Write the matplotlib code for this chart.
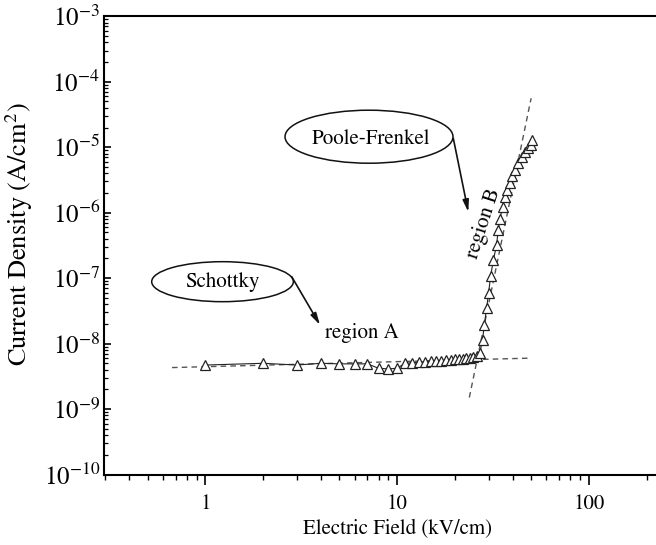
import numpy as np
import matplotlib
matplotlib.use("Agg")
import matplotlib.pyplot as plt
from matplotlib.patches import Ellipse
from matplotlib.ticker import FixedLocator, FixedFormatter, LogLocator, NullFormatter

plt.rcParams['font.family'] = 'STIXGeneral'
plt.rcParams['mathtext.fontset'] = 'stix'

# measured J-E data, low field (region A)
field_a = [1, 2, 3, 4, 5, 6, 7, 8, 9, 10,
           11, 12, 13, 14, 15, 16, 17, 18, 19, 20, 21, 22, 23, 24, 25, 26]
current_a = [4.7e-9, 5.0e-9, 4.7e-9, 5.0e-9, 4.9e-9, 4.9e-9, 4.9e-9, 4.2e-9, 4.1e-9, 4.2e-9,
             5.0e-9, 5.1e-9, 5.2e-9, 5.3e-9, 5.4e-9, 5.5e-9, 5.5e-9, 5.6e-9, 5.7e-9, 5.8e-9,
             5.8e-9, 5.9e-9, 6.0e-9, 6.1e-9, 6.2e-9, 6.4e-9]

# high field (region B)
field_b = [27.0, 27.9, 28.5, 29.3, 30.0, 30.7, 31.8, 33.0, 33.7, 34.4, 35.5, 36.5,
           37.5, 38.8, 39.6, 41.2, 42.8, 44.6, 46.4, 48.3, 49.7, 50.3]
current_b = [7.2e-9, 1.14e-8, 1.94e-8, 3.5e-8, 5.9e-8, 1.06e-7, 1.9e-7, 3.2e-7, 5.5e-7,
             8.0e-7, 1.24e-6, 1.76e-6, 2.23e-6, 2.8e-6, 3.6e-6, 4.5e-6, 5.7e-6, 7.2e-6,
             8.6e-6, 9.7e-6, 1.08e-5, 1.29e-5]

# fitted lines
fit_schottky_x = [0.67, 50]
fit_schottky_y = [4.3e-9, 6.0e-9]
fit_pf_x = [23.8, 50]
fit_pf_y = [1.5e-9, 5.6e-5]

x_ticks = [1, 10, 100]
x_tick_labels = ['1', '10', '100']

fig = plt.figure(figsize=(6.56, 5.45), dpi=100)
ax = fig.add_axes([104.3 / 656, (545 - 474.5) / 545, 551.7 / 656, 458.2 / 545])

field = field_a + field_b
current = current_a + current_b

ax.plot(fit_schottky_x, fit_schottky_y, color='#555555', lw=1.0, ls=(0, (4, 3)))
ax.plot(fit_pf_x, fit_pf_y, color='#555555', lw=1.0, ls=(0, (4, 3)))
ax.plot(field, current, '-^', color='#222222', lw=0.8, ms=7.5,
        mfc='white', mec='#222222', mew=0.9)

ax.set_xscale('log')
ax.set_yscale('log')
ax.set_xlim(0.297, 224)
ax.set_ylim(1e-10, 1e-3)

ax.xaxis.set_major_locator(FixedLocator(x_ticks))
ax.xaxis.set_major_formatter(FixedFormatter(x_tick_labels))
ax.xaxis.set_minor_locator(LogLocator(base=10, subs=np.arange(2, 10)))
ax.xaxis.set_minor_formatter(NullFormatter())
ax.yaxis.set_major_locator(LogLocator(base=10, numticks=12))
ax.yaxis.set_minor_locator(LogLocator(base=10, subs=np.arange(2, 10), numticks=12))
ax.yaxis.set_minor_formatter(NullFormatter())
ax.xaxis.get_offset_text().set_visible(False)
ax.yaxis.get_offset_text().set_visible(False)

ax.tick_params(axis='x', which='major', direction='out', length=7, width=1.2,
               labelsize=15, pad=7, top=False)
ax.tick_params(axis='x', which='minor', direction='out', length=3.5, width=1.0, top=False)
ax.tick_params(axis='y', which='major', direction='in', length=5, width=1.2,
               labelsize=18, pad=3, right=False)
ax.tick_params(axis='y', which='minor', direction='in', length=3, width=0.9, right=False)

for side in ['left', 'bottom', 'top']:
    ax.spines[side].set_linewidth(1.5)
ax.spines['right'].set_visible(False)

ax.set_xlabel('Electric Field (kV/cm)', fontsize=15)
ax.xaxis.set_label_coords(0.532, -0.098)
ax.set_ylabel('Current Density (A/cm$^2$)', fontsize=19)
ax.yaxis.set_label_coords(-0.125, 0.525)

# mechanism callouts
ax.add_patch(Ellipse((0.2143, 0.4208), 0.2568, 0.0873, transform=ax.transAxes,
                     fill=False, ec='#111111', lw=1.1))
ax.text(0.2143, 0.4208, 'Schottky', transform=ax.transAxes, fontsize=15,
        ha='center', va='center')
ax.annotate('', xy=(0.3910, 0.3263), xytext=(0.3397, 0.4317),
            xycoords='axes fraction', textcoords='axes fraction',
            arrowprops=dict(arrowstyle='-|>,head_length=0.7,head_width=0.18',
                            color='#111111', lw=1.2, shrinkA=0, shrinkB=0))
ax.text(0.4001, 0.3088, 'region A', transform=ax.transAxes, fontsize=15,
        ha='left', va='center')

ax.add_patch(Ellipse((0.4798, 0.7372), 0.3045, 0.1157, transform=ax.transAxes,
                     fill=False, ec='#111111', lw=1.1))
ax.text(0.4830, 0.7330, 'Poole-Frenkel', transform=ax.transAxes, fontsize=15,
        ha='center', va='center')
ax.annotate('', xy=(0.6598, 0.5729), xytext=(0.6326, 0.7337),
            xycoords='axes fraction', textcoords='axes fraction',
            arrowprops=dict(arrowstyle='-|>,head_length=0.7,head_width=0.18',
                            color='#111111', lw=1.2, shrinkA=0, shrinkB=0))
ax.text(0.6883, 0.5485, 'region B', transform=ax.transAxes, fontsize=15,
        ha='center', va='center', rotation=72)

fig.savefig('out.png', dpi=100)
